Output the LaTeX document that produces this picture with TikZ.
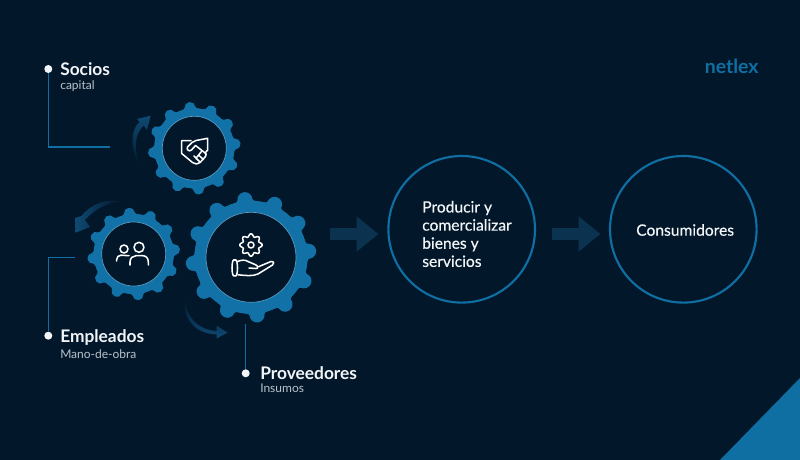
\documentclass[tikz,border=0pt]{standalone}
\usepackage{fontspec}
\setmainfont{Lato}
\newfontfamily\latomed[FakeBold=0.45]{Lato}
\usetikzlibrary{arrows.meta}
\definecolor{bgc}{HTML}{02172A}
\definecolor{blu}{HTML}{1272A8}
\definecolor{ringc}{HTML}{0F6FA3}
\definecolor{flow}{HTML}{0B3350}
\definecolor{sweep}{HTML}{0F4A74}
\definecolor{subt}{HTML}{B9C3CC}
\definecolor{txt}{HTML}{F2F5F8}
% centre x, centre y, valley radius, tip radius, knob radius
\newcommand{\gearblob}[5]{%
  \fill[blu] (#1,#2) circle[radius=#3];
  \foreach \a in {6,36,...,336}{%
    \fill[blu,shift={(#1,#2)},rotate=\a]
      ({0.87*#3},{-0.233*#3}) -- ({0.9659*#3},{-0.2588*#3})
      .. controls ({0.9659*#3+0.104*#5},{-0.2588*#3+0.386*#5}) and ({#4-1.33*#5},{-#5}) .. ({#4-#5},{-#5})
      .. controls ({#4-0.45*#5},{-#5}) and (#4,{-0.55*#5}) .. (#4,0)
      .. controls (#4,{0.55*#5}) and ({#4-0.45*#5},#5) .. ({#4-#5},#5)
      .. controls ({#4-1.33*#5},#5) and ({0.9659*#3+0.104*#5},{0.2588*#3-0.386*#5}) .. ({0.9659*#3},{0.2588*#3})
      -- ({0.87*#3},{0.233*#3}) -- cycle;
  }}
\tikzset{
  px/.style={x=0.75pt,y=-0.75pt},
  hub/.style={circle,fill=bgc,draw=blu!70!white,line width=0.5pt,inner sep=0pt,minimum size=#1*0.75pt},
  bigring/.style={circle,draw=ringc,line width=1.6pt,inner sep=0pt,minimum size=146.6*0.75pt},
  dotn/.style={circle,fill=txt,inner sep=0pt,minimum size=6pt},
  leader/.style={draw=ringc,line width=1pt},
  flowarrow/.style={draw=flow,line width=9pt,-{Triangle[length=16.5pt,width=25.5pt]}},
  head/.style={anchor=base west,inner sep=0pt,text=txt,font=\bfseries\fontsize{13pt}{15pt}\selectfont},
  subh/.style={anchor=base west,inner sep=0pt,text=subt,font=\fontsize{9pt}{11pt}\selectfont},
  body/.style={inner sep=0pt,text=txt,font=\latomed\fontsize{11.7pt}{13.6pt}\selectfont},
  icon/.style={draw=white,line width=1.15pt,line join=round,line cap=round},
}
\begin{document}
\begin{tikzpicture}[px]
\useasboundingbox (0,0) rectangle (800,460);
\fill[bgc] (0,0) rectangle (800,460);
\fill[ringc] (720,460) -- (800,378) -- (800,460) -- cycle;

% logo
\node[anchor=base west,inner sep=0pt,text=ringc,font=\bfseries\fontsize{14.6pt}{16pt}\selectfont] (logo) at (704.5,73.5) {netlex};

% sweep arrows
\shade[top color=sweep,bottom color=bgc,shading angle=0]
  (141.7,168) .. controls (132,155) and (128,133) .. (139.5,122) -- (137,119) -- (150.7,115.7) -- (147,130) -- (143.5,125.5)
  .. controls (133,136) and (134,155) .. (141.7,168) -- cycle;
\shade[left color=sweep,right color=bgc]
  (121.7,201.7) .. controls (108,198) and (92,203) .. (81.5,216) -- (75,218) -- (75.7,232.7) -- (90,227) -- (85,220)
  .. controls (95,209) and (108,202) .. (121.7,201.7) -- cycle;
\shade[top color=bgc,bottom color=sweep]
  (185,298) .. controls (185,315) and (197,330) .. (216.7,331) -- (216.7,325.7) -- (227.7,332.7) -- (216.7,338.3) -- (216.7,334.5)
  .. controls (195,334) and (182,318) .. (185,298) -- cycle;

% gears
\gearblob{194.3}{148.3}{40}{46.5}{5.5}
\gearblob{133.7}{254}{40}{46.5}{5.5}
\gearblob{251}{257.3}{56.5}{65.5}{7.5}
\node[hub=64] (gearA) at (194.3,148.3) {};
\node[hub=64] (gearB) at (133.7,254) {};
\node[hub=90] (gearC) at (251,257.3) {};

% handshake
\draw[icon] (191,140.7) -- (181.7,140.7) -- (181.7,153.5) -- (192.5,162.5) .. controls (195,164.5) and (198,164.5) .. (200,162.5) -- (205.5,156.5)
  .. controls (207,155) and (206,153) .. (204.5,152.5) -- (195.5,145.5) -- (191.5,150) .. controls (189.5,152) and (186,150) .. (187.5,147) -- (192,142.5) -- (196,140.5) -- (207.7,138.3) -- (207.7,150) -- (205,153);
\draw[icon] (199,155.5) -- (203.5,159.5) (196,158.5) -- (200.5,162.2) (201.5,151.5) -- (197,157) (198,160) -- (194,156);

% people
\draw[icon] (139,247.3) circle[radius=5];
\draw[icon] (124,249) circle[radius=4];
\draw[icon] (130,265) -- (130,262) .. controls (130,258) and (133,255.7) .. (136,255.7) -- (142.5,255.7) .. controls (146,255.7) and (148.3,258) .. (148.3,262) -- (148.3,265);
\draw[icon] (116.7,261) -- (116.7,259.5) .. controls (116.7,257) and (118.5,255.2) .. (121,255.2) -- (129,255.7);

% gear and hand
\draw[icon] plot[domain=0:360,samples=145,smooth,variable=\t]
  ({251+(8.4+2.8*(0.5+0.5*cos(8*\t)))*cos(\t)},{245-(8.4+2.8*(0.5+0.5*cos(8*\t)))*sin(\t)}) -- cycle;
\draw[icon] (251,245) circle[radius=3];
\draw[icon] (233.5,260) .. controls (231.5,262) and (231.5,274) .. (233.5,275.8) -- (236,275.8) .. controls (238,274) and (238,262) .. (236,260) -- cycle;
\draw[icon] (237.5,261.5) .. controls (241,260) and (245,259.5) .. (248,261.5) -- (255,264.5) .. controls (258,265.5) and (259,268.5) .. (256,268.5) -- (249,268)
  (259,266.5) -- (271,261.5) .. controls (274,261) and (274.5,264) .. (272.5,265) -- (258,274) .. controls (252,276.5) and (246,275.5) .. (238,274.8);

% leaders and dots
\node[dotn] (dotS) at (48.3,69) {};
\node[dotn] (dotE) at (48.3,335.7) {};
\node[dotn] (dotP) at (245.7,373.3) {};
\coordinate (endS) at (110,147);
\coordinate (endE) at (75,257.5);
\coordinate (endP) at (245.7,324);
\draw[leader] (dotS) |- (endS);
\draw[leader] (dotE) |- (endE);
\draw[leader] (dotP) -- (endP);

% labels
\node[head] (tS) at (60,75.7) {Socios};
\node[subh] (sS) at (60,89.2) {capital};
\node[head] (tE) at (60,342.8) {Empleados};
\node[subh] (sE) at (60,358.3) {Mano-de-obra};
\node[head] (tP) at (260,379) {Proveedores};
\node[subh] (sP) at (260,392.2) {Insumos};

% rings
\node[bigring] (prod) at (461.7,229.3) {};
\node[bigring] (cons) at (683.3,229.3) {};
\node[body,align=left,anchor=west] (prodt) at (422,234) {Producir y\\comercializar\\bienes y\\servicios};
\node[body,anchor=base west] (const) at (636,235.7) {Consumidores};

% flow arrows
\coordinate (f1a) at (330,234);
\coordinate (f1b) at (378.5,234);
\coordinate (f2a) at (552.3,234);
\coordinate (f2b) at (600.5,234);
\draw[flowarrow] (f1a) -- (f1b);
\draw[flowarrow] (f2a) -- (f2b);
\end{tikzpicture}
\end{document}
